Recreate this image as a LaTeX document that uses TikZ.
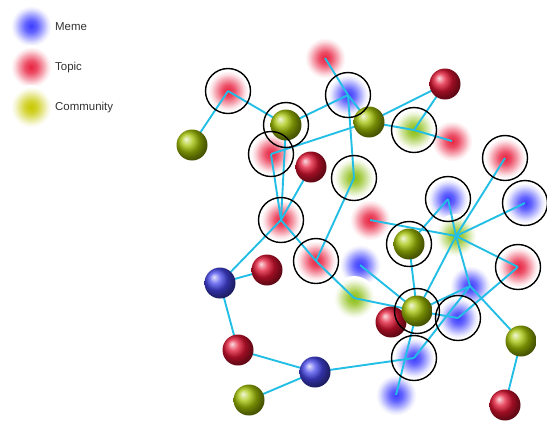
\documentclass[tikz,border=0pt]{standalone}
\usepackage{fontspec}
\setmainfont{Liberation Sans}
\definecolor{fzb}{RGB}{60,60,255}
\definecolor{fzr}{RGB}{232,35,65}
\definecolor{fzg}{RGB}{140,190,20}
\definecolor{fzy}{RGB}{200,200,0}
\definecolor{linkc}{RGB}{35,190,230}
\definecolor{txt}{RGB}{50,50,50}
\pgfdeclareradialshading{shb}{\pgfpoint{0bp}{0bp}}{color(0bp)=(fzb); color(7bp)=(fzb!80!white); color(14bp)=(fzb!42!white); color(19bp)=(fzb!14!white); color(23bp)=(white); color(50bp)=(white)}
\pgfdeclareradialshading{shr}{\pgfpoint{0bp}{0bp}}{color(0bp)=(fzr); color(7bp)=(fzr!80!white); color(14bp)=(fzr!42!white); color(19bp)=(fzr!14!white); color(23bp)=(white); color(50bp)=(white)}
\pgfdeclareradialshading{shg}{\pgfpoint{0bp}{0bp}}{color(0bp)=(fzg); color(7bp)=(fzg!80!white); color(14bp)=(fzg!42!white); color(19bp)=(fzg!14!white); color(23bp)=(white); color(50bp)=(white)}
\pgfdeclareradialshading{shy}{\pgfpoint{0bp}{0bp}}{color(0bp)=(fzy); color(7bp)=(fzy!80!white); color(14bp)=(fzy!42!white); color(19bp)=(fzy!14!white); color(23bp)=(white); color(50bp)=(white)}
\pgfdeclarelayer{back}
\pgfdeclarelayer{mid}
\pgfsetlayers{back,mid,main}
\begin{document}
\begin{tikzpicture}[x=1bp,y=-1bp,
  fz/.style={circle,minimum size=44bp,inner sep=0pt,shade},
  fm/.style={fz,shading=shb},
  ft/.style={fz,shading=shr},
  fc/.style={fz,shading=shg},
  fy/.style={fz,shading=shy},
  solid ball/.style={circle,minimum size=31bp,inner sep=0pt},
  sr/.style={solid ball,ball color={rgb,255:red,225;green,20;blue,50}},
  sg/.style={solid ball,ball color={rgb,255:red,165;green,195;blue,5}},
  sb/.style={solid ball,ball color={rgb,255:red,70;green,70;blue,235}},
  link/.style={draw=linkc,line width=1.9bp},
  ringline/.style={draw=black,line width=1.4bp},
  lab/.style={anchor=west,text=txt,font=\fontsize{11.5}{13}\selectfont,inner sep=0pt}]
\useasboundingbox (0,0) rectangle (547,420);
% legend
\begin{pgfonlayer}{back}
\node[fm] (Lm) at (31,26) {};
\node[ft] (Lt) at (31,67) {};
\node[fy] (Lc) at (31,107) {};
% fuzzy nodes
\node[ft] (T1) at (228,91) {};
\node[ft] (T2) at (325,58) {};
\node[fm] (M1) at (348,95) {};
\node[fc] (Cf1) at (414,130) {};
\node[ft] (T3) at (452,141) {};
\node[ft] (T4) at (271,154) {};
\node[fc] (Cf2) at (354,178) {};
\node[ft] (T5) at (505,158) {};
\node[fm] (M2) at (448,199) {};
\node[fm] (M3) at (525,203) {};
\node[ft] (T6) at (281,220) {};
\node[ft] (T7) at (370,220) {};
\node[fc] (Cf3) at (456,236) {};
\node[ft] (T8) at (518,267) {};
\node[ft] (T9) at (316,261) {};
\node[fm] (M4) at (360,265) {};
\node[fc] (Cf4) at (354,298) {};
\node[fm] (M5) at (470,286) {};
\node[fm] (M6) at (458,318) {};
\node[fm] (M7) at (414,358) {};
\node[fm] (M8) at (396,395) {};
\end{pgfonlayer}
\node[lab] (Ltx1) at (55,27) {Meme};
\node[lab] (Ltx2) at (55,68) {Topic};
\node[lab] (Ltx3) at (55,108) {Community};
% solid balls
\node[sg] (C1) at (192,145) {};
\node[sg] (C2) at (286,125) {};
\node[sr] (R1) at (445,84) {};
\node[sg] (C3) at (369,122) {};
\node[sr] (R2) at (311,167) {};
\node[sg] (C4) at (409,244) {};
\node[sb] (B1) at (220,283) {};
\node[sr] (R3) at (267,270) {};
\node[sr] (R4) at (391,322) {};
\node[sg] (C5) at (417,311) {};
\node[sg] (C6) at (521,341) {};
\node[sr] (R5) at (238,350) {};
\node[sb] (B2) at (315,372) {};
\node[sg] (C7) at (249,400) {};
\node[sr] (R6) at (505,405) {};
% links
\begin{pgfonlayer}{mid}
\foreach \a/\b in {T1/C1,T1/C2,C2/M1,C2/T6,T4/T6,T4/C3,T2/M1,M1/C3,M1/Cf2,
  C3/R1,C3/Cf1,Cf1/T3,Cf1/R1,R2/T6,Cf2/T9,T6/T9,T9/Cf4,T6/B1,B1/R3,B1/R5,
  R5/B2,B2/C7,B2/M7,Cf4/C5,M4/C5,T7/Cf3,C4/M2,C4/C5,M2/Cf3,Cf3/M3,Cf3/T5,
  Cf3/C5,Cf3/M5,Cf3/T8,M5/C6,T8/M6,M6/C5,M5/C5,M5/M7,C5/M8,C6/R6}
  \draw[link] (\a.center) -- (\b.center);
\end{pgfonlayer}
% rings
\foreach \n in {T1,C2,M1,Cf1,T4,Cf2,T5,M2,M3,T6,C4,T8,T9,C5,M6,M7}
  \draw[ringline] (\n.center) circle (22.5bp);
\end{tikzpicture}
\end{document}
